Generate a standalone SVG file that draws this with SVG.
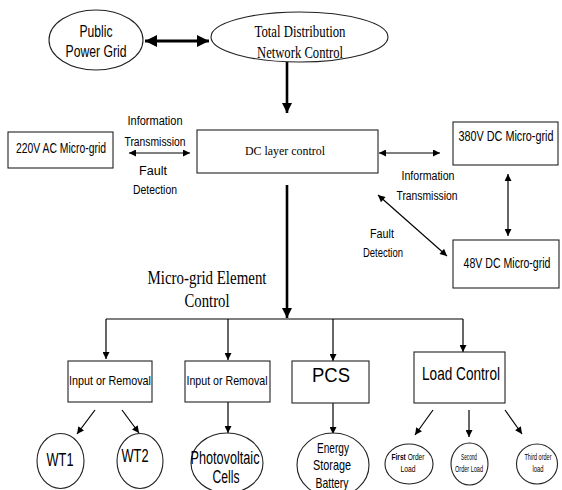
<svg xmlns="http://www.w3.org/2000/svg" width="562" height="490" viewBox="0 0 562 490">
  <style>
    .shape { fill: #ffffff; stroke: #222; stroke-width: 1.1; }
    .sans { font-family: "Liberation Sans Narrow", "Liberation Sans", Arial, sans-serif; fill: #000; text-anchor: middle; }
    .serif { font-family: "Liberation Serif", "Times New Roman", serif; fill: #000; text-anchor: middle; }
    .thin { stroke: #000; stroke-width: 1.2; fill: none; }
    .bold { stroke: #000; stroke-width: 2.6; fill: none; }
    .heavy { stroke: #000; stroke-width: 3.2; fill: none; }
  </style>
  <defs>
    <marker id="ah" viewBox="0 0 10 10" refX="10" refY="5" markerWidth="8" markerHeight="7" orient="auto-start-reverse" markerUnits="userSpaceOnUse">
      <path d="M0,0 L10,5 L0,10 z" fill="#000"/>
    </marker>
    <marker id="ahb" viewBox="0 0 10 10" refX="10" refY="5" markerWidth="11" markerHeight="10" orient="auto-start-reverse" markerUnits="userSpaceOnUse">
      <path d="M0,0 L10,5 L0,10 z" fill="#000"/>
    </marker>
    <marker id="ahh" viewBox="0 0 10 10" refX="10" refY="5" markerWidth="13" markerHeight="12" orient="auto-start-reverse" markerUnits="userSpaceOnUse">
      <path d="M0,0 L10,5 L0,10 z" fill="#000"/>
    </marker>
  </defs>

  <!-- connectors -->
  <g id="connectors">
    <line class="heavy" x1="145" y1="41" x2="209" y2="41" marker-start="url(#ahh)" marker-end="url(#ahh)"/>
    <line class="bold" x1="287" y1="62" x2="287" y2="113" marker-end="url(#ahb)"/>
    <line class="thin" x1="129" y1="153" x2="190" y2="153" marker-start="url(#ah)" marker-end="url(#ah)"/>
    <line class="thin" x1="379" y1="153" x2="440" y2="153" marker-start="url(#ah)" marker-end="url(#ah)"/>
    <line class="thin" x1="508" y1="174" x2="508" y2="236" marker-start="url(#ah)" marker-end="url(#ah)"/>
    <line class="thin" x1="378" y1="195" x2="447" y2="256" marker-start="url(#ah)" marker-end="url(#ah)"/>
    <line class="bold" x1="287" y1="185" x2="287" y2="318" marker-end="url(#ahb)"/>
    <!-- distribution bar and drops to element controllers -->
    <line class="thin" x1="106" y1="319" x2="463" y2="319"/>
    <line class="thin" x1="106" y1="319" x2="106" y2="359" marker-end="url(#ah)"/>
    <line class="thin" x1="228" y1="319" x2="228" y2="360" marker-end="url(#ah)"/>
    <line class="thin" x1="333" y1="319" x2="333" y2="361" marker-end="url(#ah)"/>
    <line class="thin" x1="463" y1="319" x2="463" y2="352" marker-end="url(#ah)"/>
    <line class="thin" x1="95" y1="410" x2="77" y2="434" marker-end="url(#ah)"/>
    <line class="thin" x1="122" y1="410" x2="139" y2="433" marker-end="url(#ah)"/>
    <line class="thin" x1="228" y1="402" x2="228" y2="433" marker-end="url(#ah)"/>
    <line class="thin" x1="333" y1="403" x2="333" y2="434" marker-end="url(#ah)"/>
    <line class="thin" x1="433" y1="410" x2="415" y2="435" marker-end="url(#ah)"/>
    <line class="thin" x1="469" y1="410" x2="469" y2="437" marker-end="url(#ah)"/>
    <line class="thin" x1="505" y1="410" x2="522" y2="434" marker-end="url(#ah)"/>

    <!-- link labels -->
    <text class="sans" font-size="12.5" x="155" y="125" textLength="55" lengthAdjust="spacingAndGlyphs">Information</text>
    <text class="sans" font-size="12.5" x="155" y="146" textLength="61" lengthAdjust="spacingAndGlyphs">Transmission</text>
    <text class="sans" font-size="12.5" x="153" y="175" textLength="28" lengthAdjust="spacingAndGlyphs">Fault</text>
    <text class="sans" font-size="12.5" x="155" y="194" textLength="44" lengthAdjust="spacingAndGlyphs">Detection</text>
    <text class="sans" font-size="12.5" x="428" y="180" textLength="53" lengthAdjust="spacingAndGlyphs">Information</text>
    <text class="sans" font-size="12.5" x="427" y="200" textLength="61" lengthAdjust="spacingAndGlyphs">Transmission</text>
    <text class="sans" font-size="12.5" x="382" y="238" textLength="24" lengthAdjust="spacingAndGlyphs">Fault</text>
    <text class="sans" font-size="12.5" x="383" y="257" textLength="40" lengthAdjust="spacingAndGlyphs">Detection</text>
    <text class="serif" font-size="18" x="207" y="284" textLength="119" lengthAdjust="spacingAndGlyphs">Micro-grid Element</text>
    <text class="serif" font-size="18" x="207" y="307" textLength="45" lengthAdjust="spacingAndGlyphs">Control</text>
  </g>

  <!-- nodes -->
  <g id="public-power-grid">
    <ellipse class="shape" cx="96" cy="40" rx="47" ry="30"/>
    <text class="sans" font-size="16" x="96" y="37" textLength="33" lengthAdjust="spacingAndGlyphs">Public</text>
    <text class="sans" font-size="16" x="96" y="57" textLength="61" lengthAdjust="spacingAndGlyphs">Power Grid</text>
  </g>
  <g id="total-distribution">
    <ellipse class="shape" cx="299.5" cy="37" rx="88.5" ry="25"/>
    <text class="serif" font-size="16" x="300" y="37" textLength="91" lengthAdjust="spacingAndGlyphs">Total Distribution</text>
    <text class="serif" font-size="16" x="300" y="58" textLength="86" lengthAdjust="spacingAndGlyphs">Network Control</text>
  </g>
  <g id="dc-layer">
    <rect class="shape" x="197" y="130" width="181" height="43"/>
    <text class="serif" font-size="13" x="285" y="155" textLength="80" lengthAdjust="spacingAndGlyphs">DC layer  control</text>
  </g>
  <g id="ac-220">
    <rect class="shape" x="8" y="132" width="105" height="36"/>
    <text class="sans" font-size="14" x="61" y="153" textLength="90" lengthAdjust="spacingAndGlyphs">220V AC Micro-grid</text>
  </g>
  <g id="dc-380">
    <rect class="shape" x="453" y="122" width="105" height="43"/>
    <text class="sans" font-size="14" x="506" y="141" textLength="95" lengthAdjust="spacingAndGlyphs">380V DC Micro-grid</text>
  </g>
  <g id="dc-48">
    <rect class="shape" x="453" y="240" width="106" height="48"/>
    <text class="sans" font-size="14" x="507" y="268" textLength="87" lengthAdjust="spacingAndGlyphs">48V DC Micro-grid</text>
  </g>
  <g id="input-removal-1">
    <rect class="shape" x="68" y="361" width="84" height="41"/>
    <text class="sans" font-size="13" x="110" y="385" textLength="82" lengthAdjust="spacingAndGlyphs">Input or Removal</text>
  </g>
  <g id="input-removal-2">
    <rect class="shape" x="185" y="361" width="85" height="41"/>
    <text class="sans" font-size="13" x="227" y="385" textLength="81" lengthAdjust="spacingAndGlyphs">Input or Removal</text>
  </g>
  <g id="pcs">
    <rect class="shape" x="292" y="361" width="77" height="42"/>
    <text class="sans" font-size="20" x="331" y="382" textLength="38" lengthAdjust="spacingAndGlyphs">PCS</text>
  </g>
  <g id="load-control">
    <rect class="shape" x="414" y="352" width="91" height="51"/>
    <text class="sans" font-size="19" x="461" y="380" textLength="78" lengthAdjust="spacingAndGlyphs">Load Control</text>
  </g>
  <g id="wt1">
    <ellipse class="shape" cx="60.5" cy="461" rx="23.5" ry="27.5"/>
    <text class="sans" font-size="19" x="60" y="466" textLength="27" lengthAdjust="spacingAndGlyphs">WT1</text>
  </g>
  <g id="wt2">
    <ellipse class="shape" cx="140" cy="461" rx="23" ry="27.5"/>
    <text class="sans" font-size="19" x="135" y="462" textLength="27" lengthAdjust="spacingAndGlyphs">WT2</text>
  </g>
  <g id="photovoltaic">
    <ellipse class="shape" cx="227" cy="463" rx="36" ry="30"/>
    <text class="sans" font-size="18" x="225" y="464" textLength="69" lengthAdjust="spacingAndGlyphs">Photovoltaic</text>
    <text class="sans" font-size="18" x="226" y="483" textLength="27" lengthAdjust="spacingAndGlyphs">Cells</text>
  </g>
  <g id="energy-storage">
    <ellipse class="shape" cx="333" cy="465" rx="36" ry="32"/>
    <text class="sans" font-size="15" x="333" y="453" textLength="32" lengthAdjust="spacingAndGlyphs">Energy</text>
    <text class="sans" font-size="15" x="332" y="470" textLength="38" lengthAdjust="spacingAndGlyphs">Storage</text>
    <text class="sans" font-size="15" x="332" y="488" textLength="33" lengthAdjust="spacingAndGlyphs">Battery</text>
  </g>
  <g id="first-order-load">
    <ellipse class="shape" cx="409" cy="464" rx="24" ry="20"/>
    <text class="sans" font-size="9.5" x="408" y="460" textLength="33" lengthAdjust="spacingAndGlyphs"><tspan font-weight="bold">First</tspan> Order</text>
    <text class="sans" font-size="9.5" x="408" y="472" textLength="15" lengthAdjust="spacingAndGlyphs">Load</text>
  </g>
  <g id="second-order-load">
    <ellipse class="shape" cx="469.5" cy="464" rx="18.5" ry="21"/>
    <text class="sans" font-size="9.5" x="469" y="460" textLength="16" lengthAdjust="spacingAndGlyphs">Second</text>
    <text class="sans" font-size="9.5" x="469" y="472" textLength="28" lengthAdjust="spacingAndGlyphs">Order Load</text>
  </g>
  <g id="third-order-load">
    <ellipse class="shape" cx="537" cy="464" rx="20.5" ry="20"/>
    <text class="sans" font-size="9.5" x="538" y="460" textLength="27" lengthAdjust="spacingAndGlyphs">Third order</text>
    <text class="sans" font-size="9.5" x="538" y="472" textLength="11" lengthAdjust="spacingAndGlyphs">load</text>
  </g>
</svg>
